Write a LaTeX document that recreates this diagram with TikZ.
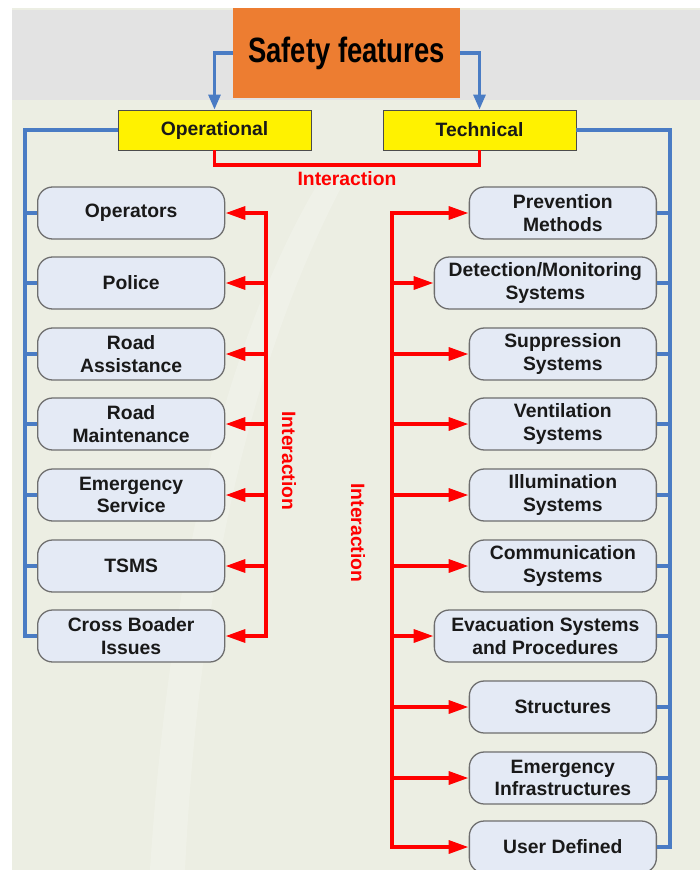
\documentclass[tikz,border=0pt]{standalone}
\usepackage{fontspec}
\setmainfont{Liberation Sans}
\usetikzlibrary{positioning, arrows.meta, calc}
\definecolor{bgbeige}{HTML}{ECEEE3}
\definecolor{bggray}{HTML}{E3E3E3}
\definecolor{safeorange}{HTML}{ED7D31}
\definecolor{boxfill}{HTML}{E4EAF5}
\definecolor{boxgray}{HTML}{6E6E6E}
\definecolor{lineblue}{HTML}{4A7CC4}
\definecolor{linered}{HTML}{FF0000}
\newcommand{\boxfont}{\fontsize{16.5}{19.5}\selectfont\bfseries}

\tikzset{
  featbox/.style={draw=boxgray, line width=1.1pt, fill=boxfill, rounded corners=4.5mm,
    minimum height=15.6mm, inner sep=0pt, align=center, font=\boxfont, text=black!90},
  groupbox/.style={draw=black!70, line width=0.8pt, fill=yellow, minimum width=57.9mm,
    minimum height=12mm, inner sep=0pt, font=\boxfont, text=black!90},
  blueln/.style={draw=lineblue, line width=2.6pt},
  bluearr/.style={blueln, -{Triangle[length=4.5mm,width=3.6mm]}},
  redln/.style={draw=linered, line width=3.4pt},
  redarr/.style={redln, -{Triangle[length=6mm,width=3.8mm]}},
  interlabel/.style={text=linered, font=\fontsize{16.5}{18}\selectfont\bfseries}
}

\begin{document}
\begin{tikzpicture}[x=0.3mm, y=-0.3mm]
\useasboundingbox (0,0) rectangle (700,870);
% background
\fill[white] (0,0) rectangle (700,870);
\fill[bgbeige] (12,8) rectangle (700,870);
\fill[bggray] (12,10) rectangle (700,100);
\fill[white, opacity=0.18] (150,870) .. controls (170,560) and (230,330) .. (320,180)
  -- (345,180) .. controls (260,340) and (200,560) .. (185,870) -- cycle;

% top level
\node[fill=safeorange, minimum width=68.1mm, minimum height=27mm, inner sep=0pt] (safety) at (346.5,53)
  {\scalebox{0.78}[1]{\fontsize{30}{32}\selectfont\bfseries Safety features}};
\node[groupbox] (op) at (214.5,130) {Operational};
\node[groupbox] (tech) at (479.5,130) {Technical};

\coordinate (lb) at (25,0);
\coordinate (lr) at (266,0);
\coordinate (rr) at (392,0);
\coordinate (rb) at (670,0);

% operational boxes
\foreach \n/\y/\t in {l1/213/Operators, l2/283/Police, l3/354/{Road\\Assistance},
    l4/424/{Road\\Maintenance}, l5/495/{Emergency\\Service}, l6/566/TSMS,
    l7/636/{Cross Boader\\Issues}}
  \node[featbox, anchor=west, minimum width=56.1mm] (\n) at (37,\y) {\t};

% technical boxes
\foreach \n/\y/\w/\t in {r1/213/56.1/{Prevention\\Methods}, r2/283/66.6/{Detection/Monitoring\\Systems},
    r3/354/56.1/{Suppression\\Systems}, r4/424/56.1/{Ventilation\\Systems},
    r5/495/56.1/{Illumination\\Systems}, r6/566/56.1/{Communication\\Systems},
    r7/636/66.6/{Evacuation Systems\\and Procedures}, r8/707/56.1/Structures,
    r9/778/56.1/{Emergency\\Infrastructures}, r10/847/56.1/{User Defined}}
  \node[featbox, anchor=east, minimum width=\w mm] (\n) at (657,\y) {\t};

% blue hierarchy
\draw[bluearr] (safety.west) -| (op.north);
\draw[bluearr] (safety.east) -| (tech.north);
\draw[blueln] (op.west) -| (l7.west -| lb) -- (l7.west);
\foreach \i in {1,...,6}
  \draw[blueln] (l\i.west -| lb) -- (l\i.west);
\draw[blueln] (tech.east) -| (r10.east -| rb) -- (r10.east);
\foreach \i in {1,...,9}
  \draw[blueln] (r\i.east) -- (r\i.east -| rb);

% red interaction
\draw[redln] (op.south) -- ++(0,15) -| (tech.south);
\node[interlabel] (itop) at (347,179) {Interaction};
\draw[redln, line cap=rect] (l1.east -| lr) -- (l7.east -| lr);
\foreach \i in {1,...,7}
  \draw[redarr] (l\i.east -| lr) -- (l\i.east);
\node[interlabel, rotate=-90] (ileft) at (289,461) {Interaction};
\draw[redln, line cap=rect] (r1.west -| rr) -- (r10.west -| rr);
\foreach \i in {1,...,10}
  \draw[redarr] (r\i.west -| rr) -- (r\i.west);
\node[interlabel, rotate=-90] (iright) at (358,533) {Interaction};
\end{tikzpicture}
\end{document}
